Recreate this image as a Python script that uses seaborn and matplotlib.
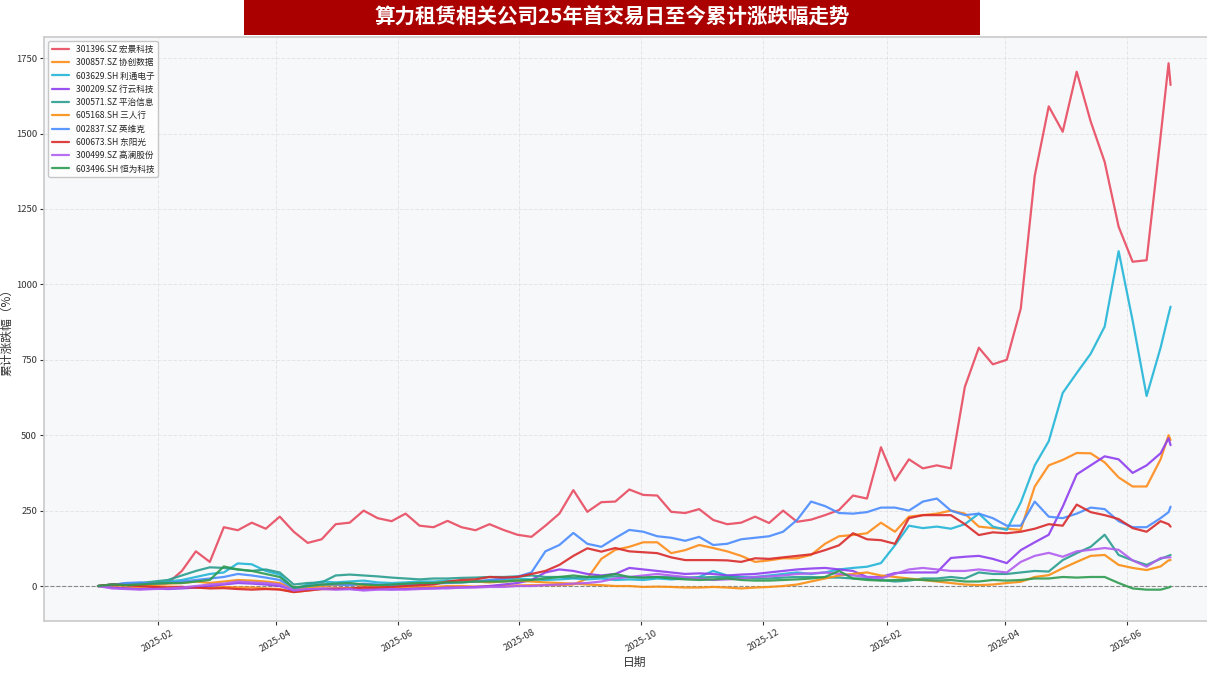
import matplotlib
matplotlib.use('Agg')
import matplotlib.pyplot as plt
import matplotlib.dates as mdates
from matplotlib.patches import Rectangle
import seaborn as sns
import pandas as pd

# 日期网格（每周一个点，最后两天单独列出）
dates = list(pd.date_range('2025-01-02', periods=77, freq='7D')) + [
    pd.Timestamp('2026-06-22'), pd.Timestamp('2026-06-23')]

names = ['301396.SZ 宏景科技', '300857.SZ 协创数据', '603629.SH 利通电子', '300209.SZ 行云科技',
         '300571.SZ 平治信息', '605168.SH 三人行', '002837.SZ 英维克', '600673.SH 东阳光',
         '300499.SZ 高澜股份', '603496.SH 恒为科技']

colors = ['#E84A5F', '#FF8C1A', '#22B5D8', '#8E3FEF', '#2A9D8F',
          '#F98E12', '#4A8CFF', '#D92B2B', '#B15EF0', '#2E9B50']

hongjing = [0, 5, 3, 5, 8, 10, 50, 115, 80, 195,
            185, 210, 190, 230, 180, 143, 155, 205, 210, 250,
            225, 215, 240, 200, 195, 216, 195, 185, 205, 186,
            170, 163, 200, 240, 318, 246, 278, 280, 320, 302,
            300, 246, 242, 255, 219, 205, 210, 230, 209, 250,
            213, 220, 235, 252, 300, 290, 460, 350, 420, 390,
            400, 390, 660, 790, 735, 750, 920, 1360, 1590, 1506,
            1705, 1540, 1406, 1191, 1075, 1080, 1490, 1733, 1661]
xiechuang = [0, -3, -5, -3, 0, -2, -3, -5, -5, -3,
             -5, -5, -8, -10, -20, -15, -10, -10, -8, -5,
             -5, -8, -5, -3, -3, 0, 0, -2, 0, 0,
             2, 3, 3, 3, 5, 25, 90, 120, 130, 145,
             145, 109, 119, 136, 126, 115, 100, 80, 85, 92,
             92, 103, 140, 165, 169, 175, 210, 180, 230, 235,
             240, 250, 240, 197, 192, 190, 186, 330, 400, 418,
             441, 440, 410, 360, 330, 330, 420, 500, 484]
litong = [0, 5, 8, 5, 10, 15, 20, 30, 40, 45,
          75, 72, 50, 38, -10, 5, 15, 12, 15, 18,
          12, 10, 12, 15, 15, 18, 15, 15, 18, 20,
          25, 22, 20, 22, 25, 22, 25, 20, 22, 20,
          25, 22, 25, 30, 50, 35, 30, 30, 35, 40,
          45, 40, 45, 55, 60, 64, 76, 135, 200, 192,
          197, 190, 205, 240, 197, 186, 277, 400, 480, 640,
          706, 770, 860, 1110, 880, 630, 790, 900, 926]
xingyun = [0, -5, -8, -10, -8, -10, -8, -5, 0, 5,
           10, 8, 5, 0, -15, -10, -8, -10, -10, -12,
           -10, -12, -10, -8, -8, -5, -5, -3, 0, 5,
           10, 20, 45, 55, 50, 40, 35, 40, 60, 55,
           50, 45, 40, 42, 40, 35, 38, 40, 45, 50,
           55, 58, 60, 55, 50, 30, 30, 43, 45, 45,
           45, 93, 97, 100, 90, 76, 119, 145, 170, 263,
           370, 400, 430, 420, 375, 400, 440, 490, 467]
pingzhi = [0, 5, 8, 10, 15, 20, 35, 50, 62, 60,
           55, 50, 55, 45, 5, 10, 12, 35, 38, 35,
           32, 28, 25, 22, 25, 25, 27, 28, 30, 30,
           32, 35, 30, 30, 28, 30, 30, 32, 30, 28,
           30, 30, 28, 28, 30, 30, 28, 25, 25, 28,
           30, 30, 28, 28, 25, 25, 20, 15, 18, 25,
           25, 30, 25, 45, 40, 40, 45, 50, 48, 86,
           109, 130, 170, 103, 85, 70, 90, 100, 103]
sanrenxing = [0, 3, 5, 3, 5, 8, 10, 15, 10, 15,
              20, 18, 15, 10, -10, -5, 0, 3, 5, 3,
              0, 3, 5, 8, 10, 12, 15, 15, 12, 15,
              18, 15, 12, 10, 8, 5, 3, 0, 0, -3,
              -2, -3, -5, -5, -3, -5, -8, -5, -3, 0,
              5, 15, 25, 35, 40, 45, 35, 30, 25, 20,
              15, 10, 5, 3, 5, 10, 14, 30, 36, 59,
              80, 100, 103, 70, 60, 53, 65, 85, 86]
yingweike = [0, 3, 10, 12, 8, 10, 15, 20, 25, 30,
             40, 35, 28, 20, -8, 0, 5, 5, 3, 8,
             5, 3, 5, 5, 8, 10, 12, 15, 20, 25,
             31, 45, 115, 136, 176, 140, 130, 159, 186, 180,
             165, 160, 150, 163, 136, 140, 155, 160, 165, 180,
             219, 280, 265, 242, 240, 245, 260, 260, 250, 280,
             290, 250, 235, 240, 225, 200, 200, 280, 230, 225,
             240, 260, 255, 215, 195, 195, 225, 245, 263]
dongyangguang = [0, 5, 3, 0, -3, -5, -3, -5, -8, -7,
                 -10, -12, -10, -12, -20, -15, -10, -8, -8, -5,
                 -5, -3, 0, 3, 5, 15, 20, 22, 30, 28,
                 30, 40, 50, 70, 100, 125, 114, 126, 115, 112,
                 109, 95, 86, 86, 86, 85, 80, 92, 90, 95,
                 100, 105, 119, 135, 175, 155, 152, 140, 225, 235,
                 235, 235, 205, 169, 178, 175, 180, 190, 205, 200,
                 270, 245, 235, 222, 192, 180, 215, 205, 197]
gaolan = [0, -8, -10, -12, -10, -8, -5, 0, 5, 8,
          15, 12, 10, 5, -15, -10, -10, -12, -10, -15,
          -12, -10, -12, -10, -8, -8, -5, -5, -3, -3,
          0, 0, 3, 5, 8, 10, 15, 25, 30, 35,
          40, 35, 30, 25, 20, 22, 25, 30, 32, 35,
          40, 42, 45, 40, 35, 30, 25, 40, 55, 60,
          55, 50, 50, 55, 50, 45, 80, 100, 110, 97,
          115, 120, 126, 120, 85, 64, 93, 95, 95]
hengwei = [0, 5, 3, 5, 8, 10, 10, 15, 20, 65,
           55, 50, 40, 30, -5, 0, 5, 8, 10, 5,
           3, 5, 8, 10, 10, 12, 12, 15, 15, 15,
           18, 20, 25, 30, 35, 30, 32, 40, 30, 28,
           30, 25, 22, 20, 22, 25, 20, 18, 18, 20,
           22, 25, 30, 50, 25, 20, 18, 20, 22, 20,
           18, 20, 15, 15, 20, 18, 20, 25, 25, 30,
           28, 30, 30, 10, -8, -12, -12, -5, -2]

series = [hongjing, xiechuang, litong, xingyun, pingzhi,
          sanrenxing, yingweike, dongyangguang, gaolan, hengwei]

frames = []
for name, vals in zip(names, series):
    frames.append(pd.DataFrame({'日期': dates, '累计涨跌幅': vals, '股票': name}))
df = pd.concat(frames, ignore_index=True)

sns.set_theme(style='whitegrid')
plt.rcParams['font.family'] = ['Noto Sans CJK SC', 'DejaVu Sans']
plt.rcParams['axes.unicode_minus'] = False

fig = plt.figure(figsize=(12.07, 6.74), dpi=100)
ax = fig.add_axes([0.0365, 0.0786, 0.978, 0.8665])
ax.set_facecolor('#F7F8FA')

sns.lineplot(data=df, x='日期', y='累计涨跌幅', hue='股票', hue_order=names,
             palette=dict(zip(names, colors)), linewidth=1.6, alpha=0.9, ax=ax)

ax.axhline(0, color='#888888', linestyle='--', linewidth=0.8, zorder=1)

ax.set_xlim(pd.Timestamp('2024-12-06'), pd.Timestamp('2026-07-20'))
ax.set_ylim(-116, 1820)
ax.set_yticks([0, 250, 500, 750, 1000, 1250, 1500, 1750])
ax.xaxis.set_major_locator(mdates.MonthLocator(bymonth=[2, 4, 6, 8, 10, 12]))
ax.xaxis.set_major_formatter(mdates.DateFormatter('%Y-%m'))
plt.setp(ax.get_xticklabels(), rotation=30, ha='center')

ax.grid(True, linestyle='--', color='#DDDDDD', linewidth=0.7, alpha=0.7)
for s in ax.spines.values():
    s.set_color('#CCCCCC')
ax.tick_params(axis='both', labelsize=6.8, colors='#333333', length=3, width=0.8,
               left=True, bottom=True, pad=2)
ax.set_xlabel('日期', fontsize=8.5, color='#333333', labelpad=2)
ax.set_ylabel('累计涨跌幅（%）', fontsize=8.5, color='#333333', labelpad=2)

leg = ax.legend(loc='upper left', fontsize=6.2, frameon=True, title=None)
leg.get_frame().set_facecolor('white')
leg.get_frame().set_edgecolor('#BBBBBB')

# 顶部红色标题栏
fig.add_artist(Rectangle((0.2022, 0.948), 0.6098, 0.06, transform=fig.transFigure,
                         facecolor='#AA0000', edgecolor='none'))
fig.text(0.507, 0.974, '算力租赁相关公司25年首交易日至今累计涨跌幅走势', color='white',
         fontsize=14.8, fontweight='bold', ha='center', va='center')

fig.savefig('out.png', dpi=100)
